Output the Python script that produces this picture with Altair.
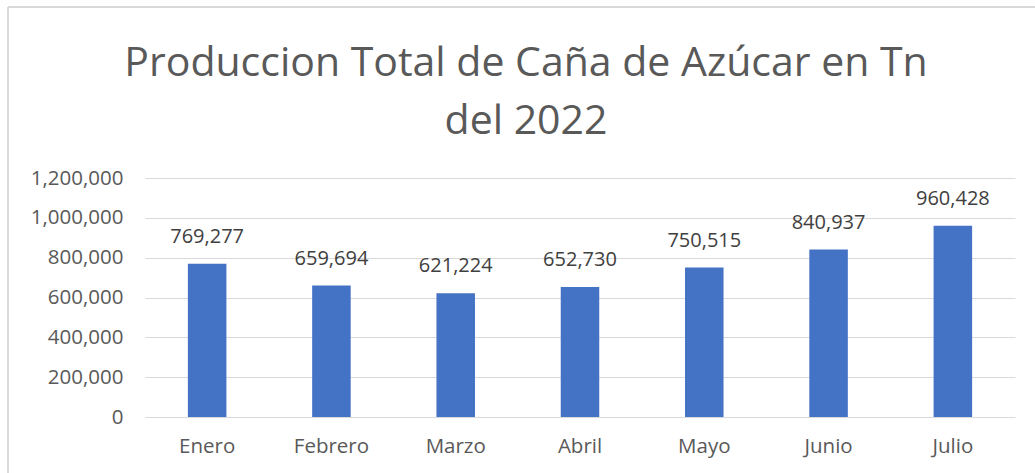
import altair as alt
import pandas as pd

months = ["Enero", "Febrero", "Marzo", "Abril", "Mayo", "Junio", "Julio"]
values = [769277, 659694, 621224, 652730, 750515, 840937, 960428]
y_ticks = [0, 200000, 400000, 600000, 800000, 1000000, 1200000]

df = pd.DataFrame({"mes": months, "valor": values})

FONT = "Open Sans"
GRAY = "#595959"

x = alt.X("mes:N", sort=months, title=None,
          scale=alt.Scale(paddingInner=0.69, paddingOuter=0.345),
          axis=alt.Axis(labelAngle=0, labelFontSize=20.5, labelColor=GRAY, labelFont=FONT,
                        ticks=False, domain=False, labelPadding=19))
y = alt.Y("valor:Q", title=None,
          scale=alt.Scale(domain=[0, 1200000]),
          axis=alt.Axis(values=y_ticks, labelExpr="format(datum.value, ',')",
                        labelFontSize=20.5, labelColor=GRAY,
                        labelFont=FONT, ticks=False, domain=False, labelPadding=22,
                        gridColor="#D9D9D9", gridWidth=1))

bars = alt.Chart(df).mark_bar(color="#4472C4").encode(x=x, y=y)
labels = alt.Chart(df).mark_text(dy=-27, fontSize=20, color="#404040", font=FONT).encode(
    x=x, y=y, text=alt.Text("valor:Q", format=","))

border_left = alt.Chart(df).mark_rule(color="#D9D9D9", strokeWidth=2).encode(
    x=alt.value(-137), y=alt.value(-171), y2=alt.value(300))
border_top = alt.Chart(df).mark_rule(color="#D9D9D9", strokeWidth=2).encode(
    x=alt.value(-137), x2=alt.value(900), y=alt.value(-171))

chart = alt.layer(bars, labels, border_left, border_top).properties(
    width=870, height=239,
    autosize=alt.AutoSizeParams(type="none"),
    padding={"left": 145, "top": 178, "right": 20, "bottom": 56},
    title=alt.TitleParams(["Produccion Total de Caña de Azúcar en Tn", "del 2022"],
                          fontSize=41, font=FONT, color=GRAY, fontWeight="normal",
                          anchor="middle", dx=-54, dy=137, offset=0, lineHeight=58),
).configure(background="white").configure_view(stroke=None)

chart.save("out.html", embed_options={"renderer": "svg", "actions": False})
